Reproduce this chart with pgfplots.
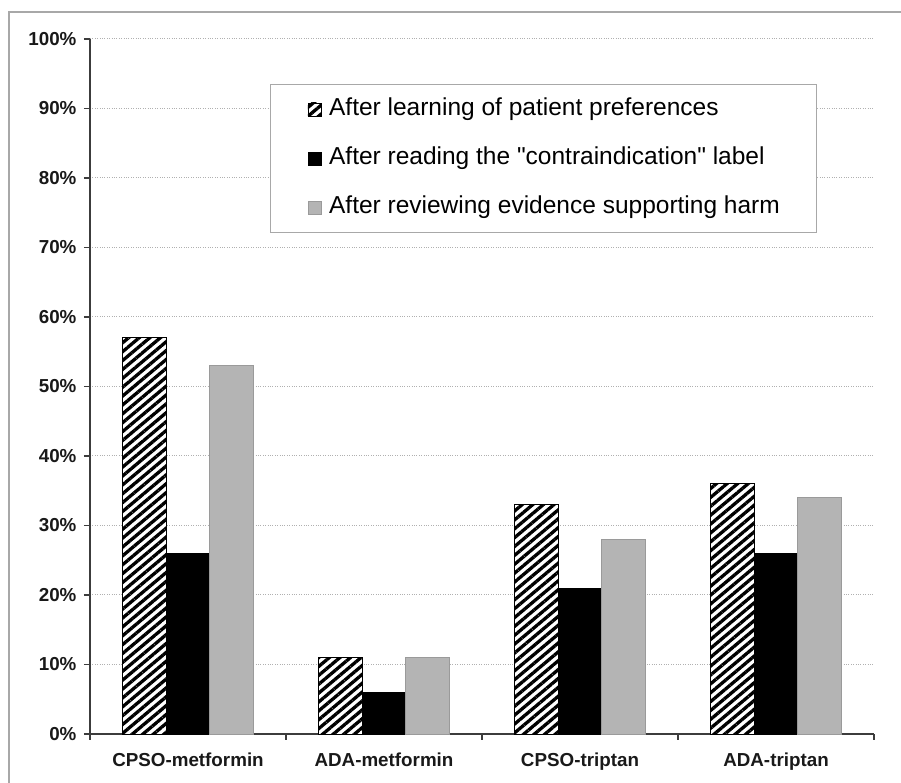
\documentclass[border=0pt]{standalone}
\usepackage{pgfplots}
\pgfplotsset{compat=1.18}
\usepackage{fontspec}
\setmainfont{Liberation Sans}
\usetikzlibrary{patterns.meta}
\definecolor{axisgray}{HTML}{3C3C3C}
\definecolor{barfill}{HTML}{B4B4B4}
\definecolor{baredge}{HTML}{9A9A9A}
\definecolor{gridgray}{HTML}{B0B0B0}
\definecolor{framegray}{HTML}{A8A8A8}
\tikzset{hatch/.style={fill=white, postaction={pattern={Lines[angle=40,distance=6.8pt,line width=3.3pt]}, pattern color=black}}}
\begin{document}
\begin{tikzpicture}
\useasboundingbox (0,0) rectangle (901pt,783pt);
\clip (0,0) rectangle (901pt,783pt);
\draw[framegray, line width=1.2pt] (9pt,-10pt) -- (9pt,771pt) -- (920pt,771pt);
\begin{axis}[
  at={(90pt,49pt)}, anchor=south west,
  scale only axis, width=784pt, height=695pt,
  xmin=-0.5, xmax=3.5, ymin=0, ymax=100,
  axis x line*=bottom, axis y line*=left,
  axis line style={axisgray, line width=1.6pt},
  ytick={0,10,...,100},
  yticklabels={0\%,10\%,20\%,30\%,40\%,50\%,60\%,70\%,80\%,90\%,100\%},
  xtick={0,1,2,3},
  xticklabels={CPSO-metformin,ADA-metformin,CPSO-triptan,ADA-triptan},
  minor xtick={-0.5,0.5,1.5,2.5,3.5},
  tick align=outside,
  major tick length=6pt, minor tick length=6pt,
  major x tick style={draw=none},
  minor x tick style={draw=axisgray, line width=1.6pt},
  y tick style={draw=axisgray, line width=1.6pt},
  ymajorgrids,
  major grid style={gridgray, dotted, line width=1pt},
  tick label style={font=\fontsize{18.8}{22}\selectfont\bfseries, text=black!90},
  yticklabel style={xshift=-4pt},
  xticklabel style={yshift=-9pt},
  /pgf/number format/assume math mode=true,
  ybar=0pt, bar width=0.222,
  legend style={at={(0.2296,0.9353)}, anchor=north west,
    draw=framegray, line width=1pt,
    font=\fontsize{24.5}{28}\selectfont,
    inner xsep=37pt, inner ysep=14pt,
    row sep=27pt, column sep=8pt,
    nodes={inner sep=0pt, text height=17pt, text depth=5pt},
    legend cell align=left},
  legend image code/.code={\path[#1, line width=0.6pt] (0pt,-6.5pt) rectangle (13pt,6.5pt);},
  clip=false,
]
\addplot[hatch, draw=black, line width=0.8pt, bar shift=-0.222] coordinates {(0,57) (1,11) (2,33) (3,36)};
\addplot[fill=black, draw=black, line width=0.8pt, bar shift=0] coordinates {(0,26) (1,6) (2,21) (3,26)};
\addplot[fill=barfill, draw=baredge, line width=0.8pt, bar shift=0.222] coordinates {(0,53) (1,11) (2,28) (3,34)};
\legend{After learning of patient preferences, After reading the \textquotedbl contraindication\textquotedbl{} label, After reviewing evidence supporting harm}
\end{axis}
\end{tikzpicture}
\end{document}
